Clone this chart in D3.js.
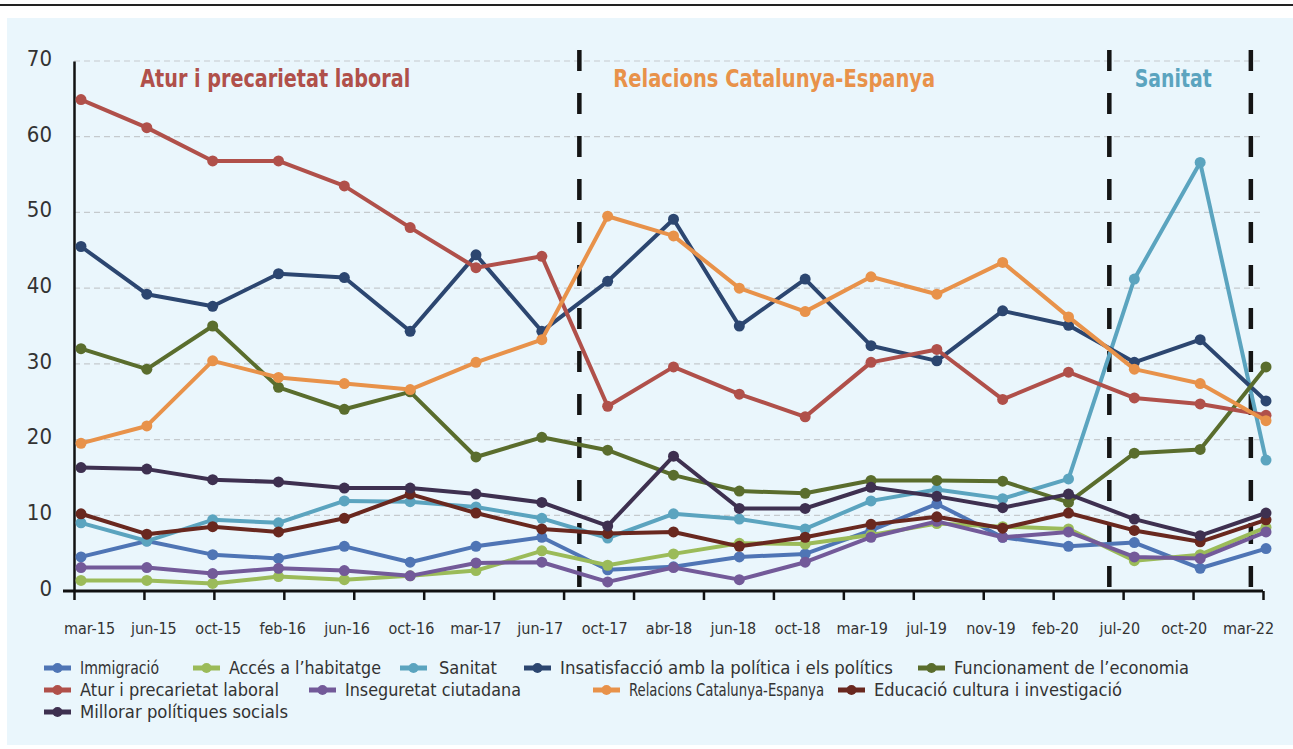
<!DOCTYPE html>
<html>
<head>
<meta charset="utf-8">
<script src="https://cdn.jsdelivr.net/npm/d3@7"></script>
<style>
  body { margin: 0; background: #fff; }
  svg { display: block; font-family: "Liberation Sans Narrow", "DejaVu Sans Condensed", "Roboto", sans-serif; }
</style>
</head>
<body>
<div id="chart"></div>
<script>
// periodes de l'enquesta
const periods = ['mar-15', 'jun-15', 'oct-15', 'feb-16', 'jun-16', 'oct-16', 'mar-17', 'jun-17', 'oct-17',
    'abr-18', 'jun-18', 'oct-18', 'mar-19', 'jul-19', 'nov-19', 'feb-20', 'jul-20', 'oct-20', 'mar-22'];

const yTicks = [0, 10, 20, 30, 40, 50, 60, 70];

const seriesNames = ['Immigració', 'Accés a l\u2019habitatge', 'Sanitat', 'Insatisfacció amb la política i els polítics',
    'Funcionament de l\u2019economia', 'Atur i precarietat laboral', 'Inseguretat ciutadana',
    'Relacions Catalunya-Espanya', 'Educació cultura i investigació', 'Millorar polítiques socials'];

const seriesColors = ['#4f75b5', '#9bbb59', '#5ba4bf', '#2c4670', '#5a6d2d', '#b0504a', '#735a99', '#e8924a', '#69281f', '#3e3050'];

const immigracio = [4.5, 6.6, 4.8, 4.3, 5.9, 3.8, 5.9, 7.1, 2.8, 3.2, 4.5, 4.9, 8.0, 11.5, 7.1, 5.9, 6.4, 3.0, 5.6];
const habitatge = [1.4, 1.4, 1.0, 1.9, 1.5, 2.0, 2.7, 5.3, 3.4, 4.9, 6.3, 6.2, 7.4, 8.9, 8.5, 8.2, 4.0, 4.8, 8.4];
const sanitat = [9.0, 6.6, 9.4, 9.0, 11.9, 11.8, 11.1, 9.6, 7.0, 10.2, 9.5, 8.2, 11.9, 13.4, 12.2, 14.8, 41.2, 56.6, 17.3];
const insatisfaccio = [45.5, 39.2, 37.6, 41.9, 41.4, 34.3, 44.4, 34.3, 40.9, 49.1, 35.0, 41.2, 32.4, 30.4, 37.0, 35.1, 30.2, 33.2, 25.1];
const economia = [32.0, 29.3, 35.0, 26.9, 24.0, 26.3, 17.7, 20.3, 18.6, 15.3, 13.2, 12.9, 14.6, 14.6, 14.5, 11.7, 18.2, 18.7, 29.6];
const atur = [64.9, 61.2, 56.8, 56.8, 53.5, 48.0, 42.7, 44.2, 24.4, 29.6, 26.0, 23.0, 30.2, 31.9, 25.3, 28.9, 25.5, 24.7, 23.2];
const inseguretat = [3.1, 3.1, 2.3, 3.0, 2.7, 2.0, 3.7, 3.8, 1.2, 3.1, 1.5, 3.8, 7.1, 9.2, 7.1, 7.8, 4.5, 4.3, 7.8];
const relacions = [19.5, 21.8, 30.4, 28.2, 27.4, 26.6, 30.2, 33.2, 49.5, 46.9, 40.0, 36.9, 41.5, 39.2, 43.4, 36.2, 29.3, 27.4, 22.5];
const educacio = [10.2, 7.5, 8.5, 7.8, 9.6, 12.8, 10.3, 8.2, 7.6, 7.8, 5.9, 7.1, 8.8, 9.8, 8.3, 10.3, 8.0, 6.5, 9.4];
const politiques = [16.3, 16.1, 14.7, 14.4, 13.6, 13.6, 12.8, 11.7, 8.6, 17.8, 10.9, 10.9, 13.7, 12.5, 11.0, 12.8, 9.5, 7.3, 10.3];

const seriesValues = [immigracio, habitatge, sanitat, insatisfaccio, economia, atur, inseguretat, relacions, educacio, politiques];

// separadors (en posició d'índex de periode) i títols de fase
const separators = [7.57, 15.62, 17.77];
const phaseLabels = ['Atur i precarietat laboral', 'Relacions Catalunya-Espanya', 'Sanitat'];
const phaseColors = ['#b0504a', '#e8924a', '#5ba4bf'];
const phaseCenter = [2.95, 10.53, 16.59];

const W = 1293, H = 749;
const condensed = '"Liberation Sans Narrow", "DejaVu Sans Condensed", sans-serif';
const svg = d3.select('#chart').append('svg').attr('width', W).attr('height', H);

// capçalera i fons
svg.append('line').attr('x1', 0).attr('x2', W).attr('y1', 5).attr('y2', 5)
    .style('stroke', '#222').style('stroke-width', 2);
svg.append('rect').attr('x', 7).attr('y', 18).attr('width', W - 7).attr('height', 727).attr('fill', '#eaf6fc');

const x = d3.scalePoint().domain(periods).range([81, 1266]);
const xi = d3.scaleLinear().domain([0, periods.length - 1]).range([81, 1266]);
const xLabels = x.copy().range([89, 1248]);
const xTicks = d3.scaleLinear().domain([0, 17]).range([74, 1263]);
const y = d3.scaleLinear().domain([0, 70]).range([591, 61]);

// línies de graella
svg.append('g').selectAll('line').data(yTicks.slice(1)).join('line')
    .attr('x1', 74).attr('x2', 1262)
    .attr('y1', d => y(d)).attr('y2', d => y(d))
    .style('stroke', '#c5cacd').style('stroke-width', 1.2).style('stroke-dasharray', '6,4');

// eix Y
const yAxis = svg.append('g').attr('transform', 'translate(74,0)')
    .call(d3.axisLeft(y).tickValues(yTicks).tickSize(0).tickPadding(22));
yAxis.select('.domain').style('stroke', '#111').style('stroke-width', 2.5);
yAxis.selectAll('text').style('font-size', '22px').style('fill', '#333')
    .style('font-family', condensed).attr('dy', '0.2em');

// eix X (marques)
const xAxis = svg.append('g').attr('transform', 'translate(0,591)')
    .call(d3.axisBottom(xTicks).tickValues(d3.range(18)).tickSize(9).tickFormat(''));
xAxis.select('.domain').attr('d', 'M63,0H1263').style('stroke', '#111').style('stroke-width', 3);
xAxis.selectAll('.tick line').style('stroke', '#111').style('stroke-width', 2.5);

// etiquetes X
const xLab = svg.append('g').attr('transform', 'translate(0,628)')
    .call(d3.axisBottom(xLabels).tickSize(0).tickPadding(0));
xLab.select('.domain').remove();
xLab.selectAll('text').style('font-size', '16px').style('fill', '#333')
    .style('font-family', condensed).attr('dy', '0.35em');

// separadors verticals
svg.append('g').selectAll('line').data(separators).join('line')
    .attr('x1', d => xi(d)).attr('x2', d => xi(d))
    .attr('y1', 50).attr('y2', 606)
    .style('stroke', '#141414').style('stroke-width', 4.5).style('stroke-dasharray', '21,22');

// títols de fase
const phaseWidth = [270, 322, 77];
svg.append('g').selectAll('text').data(phaseLabels).join('text')
    .attr('x', (d, i) => xi(phaseCenter[i]))
    .attr('y', 87)
    .attr('text-anchor', 'middle')
    .attr('textLength', (d, i) => phaseWidth[i])
    .attr('lengthAdjust', 'spacingAndGlyphs')
    .style('font-size', '24px').style('font-weight', 'bold')
    .style('fill', (d, i) => phaseColors[i])
    .text(d => d);

// sèries
const line = d3.line().x((d, i) => x(periods[i])).y(d => y(d));
const groups = svg.append('g').selectAll('g').data(seriesValues).join('g');
groups.append('path')
    .attr('d', d => line(d))
    .attr('fill', 'none')
    .attr('stroke', (d, i) => seriesColors[i])
    .attr('stroke-width', 4)
    .attr('stroke-linejoin', 'round');
groups.each(function(vals, si) {
    d3.select(this).selectAll('circle').data(vals).join('circle')
        .attr('cx', (d, i) => x(periods[i]))
        .attr('cy', d => y(d))
        .attr('r', 5.5)
        .attr('fill', seriesColors[si]);
});

// llegenda
const legendPos = [
    [44, 668], [193, 668], [400, 668], [524, 668], [918, 668],
    [44, 690], [309, 690], [593, 690], [838, 690],
    [44, 712]
];
const legendWidth = [79, 152, 58, 333, 235, 199, 176, 195, 248, 208];
const legend = svg.append('g').selectAll('g').data(seriesNames).join('g')
    .attr('transform', (d, i) => `translate(${legendPos[i][0]},${legendPos[i][1]})`);
legend.append('line').attr('x1', 0).attr('x2', 27).attr('y1', 0).attr('y2', 0)
    .style('stroke', (d, i) => seriesColors[i]).style('stroke-width', 5);
legend.append('circle').attr('cx', 13.5).attr('cy', 0).attr('r', 5)
    .attr('fill', (d, i) => seriesColors[i]);
legend.append('text').attr('x', (d, i) => i === 2 ? 39 : 36).attr('y', 0).attr('dy', '0.35em')
    .attr('textLength', (d, i) => legendWidth[i])
    .attr('lengthAdjust', 'spacingAndGlyphs')
    .style('font-size', '18px').style('fill', '#333')
    .text(d => d);
</script>
</body>
</html>
